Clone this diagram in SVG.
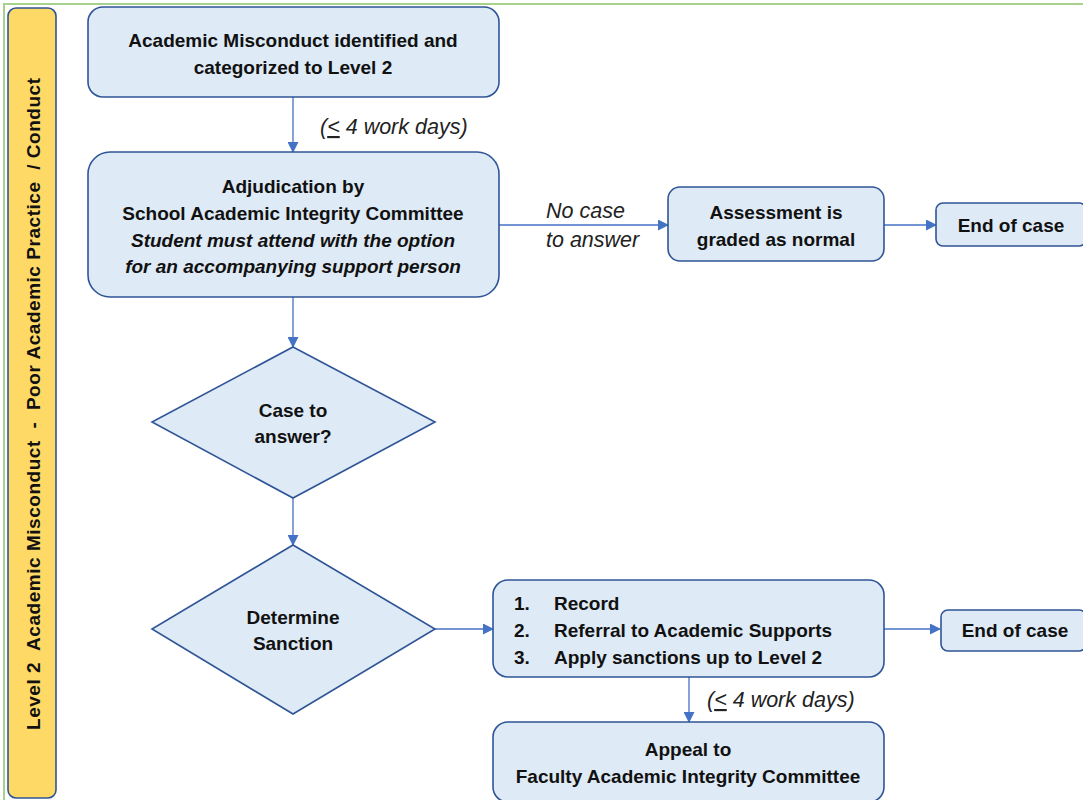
<svg xmlns="http://www.w3.org/2000/svg" width="1083" height="800" viewBox="0 0 1083 800">
  <defs>
    <marker id="arrow" markerWidth="11" markerHeight="11" refX="10" refY="5.5" orient="auto" markerUnits="userSpaceOnUse">
      <path d="M0,0 L11,5.5 L0,11 Z" fill="#4472C4"/>
    </marker>
    <style>
      .box { fill: #DEEAF6; stroke: #2F5597; stroke-width: 1.6; }
      .lane { fill: #FFD966; stroke: #2F5597; stroke-width: 1.6; }
      .conn { stroke: #4472C4; stroke-width: 1.3; fill: none; marker-end: url(#arrow); }
      .t { font-family: "Liberation Sans", Arial, sans-serif; font-size: 19px; font-weight: bold; fill: #111; text-anchor: middle; }
      .tl { font-family: "Liberation Sans", Arial, sans-serif; font-size: 19px; font-weight: bold; fill: #111; }
      .bi { font-style: italic; }
      .lbl { font-family: "Liberation Sans", Arial, sans-serif; font-size: 21.5px; font-style: italic; fill: #222; }
    </style>
  </defs>

  <!-- page frame -->
  <path d="M4,800 L4,4 L1083,4" fill="none" stroke="#A9D18E" stroke-width="2"/>

  <!-- swimlane header -->
  <g id="lane">
    <rect class="lane" x="8" y="8" width="48" height="790" rx="8"/>
    <text class="t" xml:space="preserve" style="white-space:pre" font-size="20" textLength="652" lengthAdjust="spacing" transform="translate(40,404) rotate(-90)">Level 2  Academic Misconduct  -  Poor Academic Practice  / Conduct</text>
  </g>

  <!-- connectors -->
  <g id="connectors">
    <line class="conn" x1="293" y1="97" x2="293" y2="152"/>
    <line class="conn" x1="499" y1="225" x2="668" y2="225"/>
    <line class="conn" x1="884" y1="225" x2="936" y2="225"/>
    <line class="conn" x1="293" y1="297" x2="293" y2="347"/>
    <line class="conn" x1="293" y1="498" x2="293" y2="545"/>
    <line class="conn" x1="435" y1="629" x2="493" y2="629"/>
    <line class="conn" x1="884" y1="629" x2="940" y2="629"/>
    <line class="conn" x1="689" y1="677" x2="689" y2="722"/>
    <text class="lbl" x="320" y="134">(<tspan text-decoration="underline">&lt;</tspan> 4 work days)</text>
    <text class="lbl" x="546" y="218">No case</text>
    <text class="lbl" x="546" y="247">to answer</text>
    <text class="lbl" x="707" y="707">(<tspan text-decoration="underline">&lt;</tspan> 4 work days)</text>
  </g>

  <g id="identified">
    <rect class="box" x="88" y="7" width="411" height="90" rx="15"/>
    <text class="t" x="293" y="47">Academic Misconduct identified and</text>
    <text class="t" x="293" y="74">categorized to Level 2</text>
  </g>

  <g id="adjudication">
    <rect class="box" x="88" y="152" width="411" height="145" rx="22"/>
    <text class="t" x="293" y="193">Adjudication by</text>
    <text class="t" x="293" y="220">School Academic Integrity Committee</text>
    <text class="t bi" x="293" y="247">Student must attend with the option</text>
    <text class="t bi" x="293" y="273">for an accompanying support person</text>
  </g>

  <g id="graded">
    <rect class="box" x="668" y="187" width="216" height="74" rx="12"/>
    <text class="t" x="776" y="219">Assessment is</text>
    <text class="t" x="776" y="246">graded as normal</text>
  </g>

  <g id="end1">
    <rect class="box" x="936" y="203" width="150" height="43" rx="7"/>
    <text class="t" x="1011" y="232">End of case</text>
  </g>

  <g id="case-to-answer">
    <polygon class="box" points="293,347 435,422 293,498 152,422"/>
    <text class="t" x="293" y="417">Case to</text>
    <text class="t" x="293" y="443">answer?</text>
  </g>

  <g id="determine-sanction">
    <polygon class="box" points="293,545 435,629 293,714 152,629"/>
    <text class="t" x="293" y="624">Determine</text>
    <text class="t" x="293" y="650">Sanction</text>
  </g>

  <g id="sanctions">
    <rect class="box" x="493" y="580" width="391" height="97" rx="15"/>
    <text class="tl" x="514" y="610">1.</text>
    <text class="tl" x="554" y="610">Record</text>
    <text class="tl" x="514" y="637">2.</text>
    <text class="tl" x="554" y="637">Referral to Academic Supports</text>
    <text class="tl" x="514" y="664">3.</text>
    <text class="tl" x="554" y="664">Apply sanctions up to Level 2</text>
  </g>

  <g id="end2">
    <rect class="box" x="941" y="610" width="145" height="41" rx="7"/>
    <text class="t" x="1015" y="637">End of case</text>
  </g>

  <g id="appeal">
    <rect class="box" x="493" y="722" width="391" height="80" rx="15"/>
    <text class="t" x="688" y="756">Appeal to</text>
    <text class="t" x="688" y="783">Faculty Academic Integrity Committee</text>
  </g>
</svg>
